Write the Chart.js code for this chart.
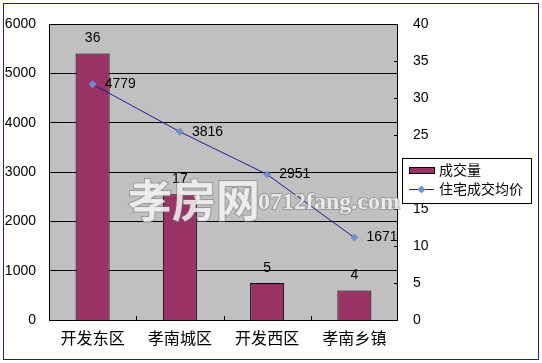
<!DOCTYPE html>
<html><head><meta charset="utf-8">
<script src="https://cdn.jsdelivr.net/npm/chart.js@4.4.0/dist/chart.umd.min.js"></script>
<style>html,body{margin:0;padding:0;background:#fff}#wrap{width:542px;height:363px;position:relative}</style>
</head><body><div id="wrap"><canvas id="c" width="542" height="363"></canvas></div>
<script>
const categories = ['开发东区','孝南城区','开发西区','孝南乡镇'];
const volume = [36, 17, 5, 4];
const avgPrice = [4779, 3816, 2951, 1671];
const leftTicks = [0,1000,2000,3000,4000,5000,6000];
const rightTicks = [0,5,10,15,20,25,30,35,40];
const seriesNames = ['成交量','住宅成交均价'];

const numFont = '14px "Liberation Sans", Arial, sans-serif';
const cjkFont = '"Noto Sans CJK SC", sans-serif';

const deco = {
  id:'deco',
  beforeDraw(chart){
    const {ctx, chartArea:a} = chart;
    ctx.save();
    ctx.fillStyle='#fff'; ctx.fillRect(0,0,chart.width,chart.height);
    ctx.fillStyle='#c0c0c0'; ctx.fillRect(a.left,a.top,a.right-a.left,a.bottom-a.top);
    ctx.restore();
  },
  afterDraw(chart){
    const {ctx, chartArea:a} = chart;
    const y1 = chart.scales.y1, x = chart.scales.x;
    ctx.save();
    ctx.strokeStyle='#000'; ctx.lineWidth=1;
    ctx.strokeRect(a.left+0.5,a.top+0.5,a.right-a.left-1,a.bottom-a.top);
    rightTicks.forEach(v=>{const p=Math.round(y1.getPixelForValue(v))+0.5;
      ctx.beginPath();ctx.moveTo(a.right-4,p);ctx.lineTo(a.right,p);ctx.stroke();});
    for(let i=1;i<categories.length;i++){
      const p=Math.round((x.getPixelForValue(i-1)+x.getPixelForValue(i))/2)+0.5;
      ctx.beginPath();ctx.moveTo(p,a.bottom);ctx.lineTo(p,a.bottom-4);ctx.stroke();
    }
    ctx.fillStyle='#000'; ctx.font=numFont; ctx.textBaseline='middle';
    const m0=chart.getDatasetMeta(0), m1=chart.getDatasetMeta(1);
    m0.data.forEach((el,i)=>{ctx.textAlign='center';ctx.fillText(String(volume[i]),el.x,el.y-15);});
    m1.data.forEach((el,i)=>{ctx.textAlign='left';ctx.fillText(String(avgPrice[i]),el.x+12,el.y);});
    ctx.globalAlpha=0.85;
    ctx.font='bold 44px '+cjkFont; ctx.textAlign='left'; ctx.textBaseline='middle';
    ctx.strokeStyle='rgba(120,120,120,0.6)'; ctx.lineWidth=2;
    ctx.strokeText('孝房网',128,200); ctx.fillStyle='#f4f4f4'; ctx.fillText('孝房网',128,200);
    ctx.font='bold 24px "Liberation Serif", serif';
    ctx.strokeText('0712fang.com',258,203); ctx.fillText('0712fang.com',258,203);
    ctx.globalAlpha=1;
    ctx.lineWidth=1; ctx.strokeStyle='#000'; ctx.fillStyle='#fff';
    ctx.fillRect(402.5,158.5,129,45); ctx.strokeRect(402.5,158.5,129,45);
    ctx.fillStyle='#993366'; ctx.fillRect(409.5,167.5,25,6); ctx.strokeRect(409.5,167.5,25,6);
    ctx.strokeStyle='#1f1f8f'; ctx.beginPath(); ctx.moveTo(409,189.5); ctx.lineTo(434,189.5); ctx.stroke();
    ctx.fillStyle='#6f8fcf'; ctx.beginPath(); ctx.moveTo(421.5,185.5); ctx.lineTo(425.5,189.5); ctx.lineTo(421.5,193.5); ctx.lineTo(417.5,189.5); ctx.closePath(); ctx.fill();
    ctx.fillStyle='#000'; ctx.font='14px '+cjkFont; ctx.textAlign='left'; ctx.textBaseline='middle';
    ctx.fillText(seriesNames[0],439,170); ctx.fillText(seriesNames[1],439,189);
    ctx.strokeRect(3.5,3.5,535,356);
    ctx.restore();
  }
};

new Chart(document.getElementById('c'),{
  data:{labels:categories,datasets:[
    {type:'bar',label:seriesNames[0],data:volume,yAxisID:'y1',backgroundColor:'#993366',borderColor:'#000',borderWidth:1,barPercentage:0.39,categoryPercentage:1,order:2},
    {type:'line',label:seriesNames[1],data:avgPrice,yAxisID:'y',borderColor:'#1f1f8f',borderWidth:1,pointStyle:'rectRot',pointRadius:4,pointBackgroundColor:'#6f8fcf',pointBorderColor:'#6f8fcf',pointBorderWidth:0,order:1}
  ]},
  plugins:[deco],
  options:{responsive:false,animation:false,devicePixelRatio:1,
    layout:{padding:{top:24,right:0,bottom:0,left:0}},
    plugins:{legend:{display:false},tooltip:{enabled:false}},
    scales:{
      x:{grid:{display:false,drawTicks:false},border:{display:false},
        ticks:{color:'#000',font:{family:'"Noto Sans CJK SC", sans-serif',size:16},padding:8,maxRotation:0},
        afterFit(s){s.height=43;}},
      y:{position:'left',min:0,max:6000,afterBuildTicks(s){s.ticks=leftTicks.map(v=>({value:v}));},
        grid:{color:'#000',drawTicks:false},border:{display:false},
        ticks:{color:'#000',font:{family:'"Liberation Sans", Arial, sans-serif',size:14},padding:13,callback:v=>String(v)},
        afterFit(s){s.width=49;}},
      y1:{position:'right',min:0,max:40,afterBuildTicks(s){s.ticks=rightTicks.map(v=>({value:v}));},
        grid:{display:false,drawTicks:false},border:{display:false},
        ticks:{color:'#000',font:{family:'"Liberation Sans", Arial, sans-serif',size:14},padding:15,callback:v=>String(v)},
        afterFit(s){s.width=144;}}
    }
  }
});
</script></body></html>
